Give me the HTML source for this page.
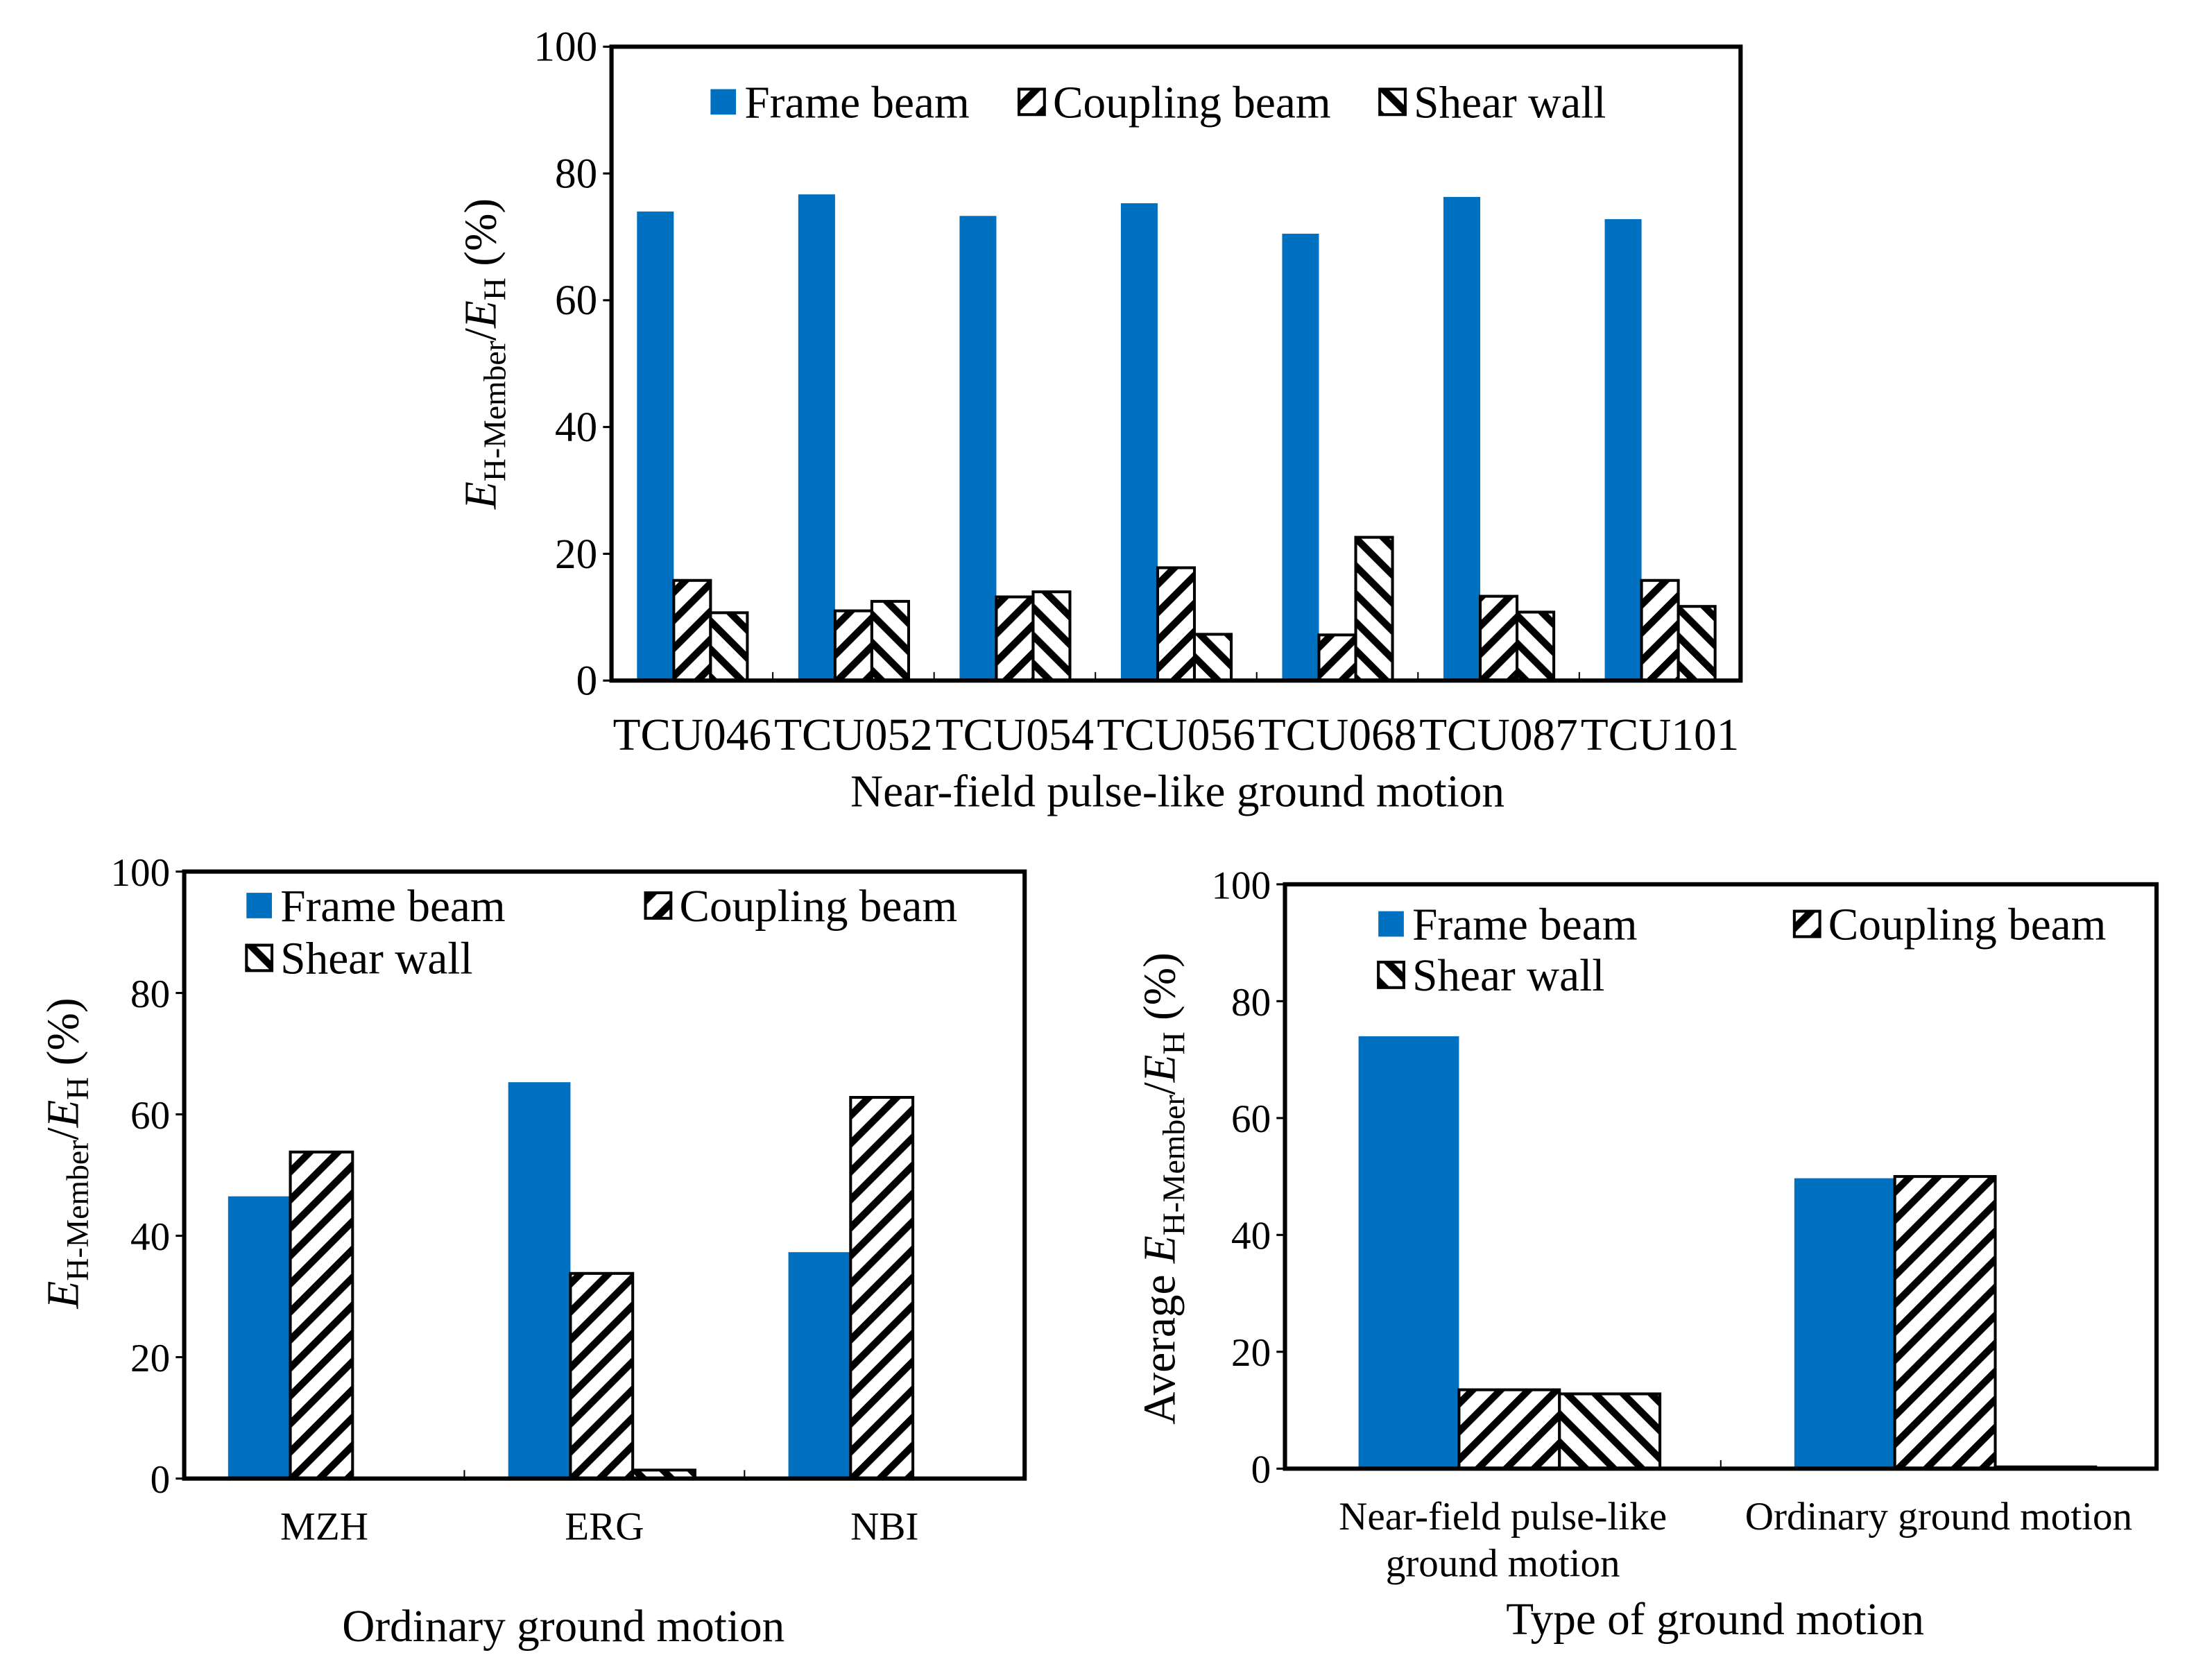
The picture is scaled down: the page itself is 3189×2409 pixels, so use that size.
<!DOCTYPE html>
<html><head><meta charset="utf-8"><style>
html,body{margin:0;padding:0;background:#fff}
svg{display:block;font-family:"Liberation Serif",serif}
</style></head><body>
<svg id="root" width="3189" height="2409" viewBox="0 0 1563 1181" xmlns="http://www.w3.org/2000/svg">
<defs>
<pattern id="pc" patternUnits="userSpaceOnUse" width="14" height="14" patternTransform="rotate(45)">
<rect width="14" height="14" fill="#fff"/><rect x="0" y="0" width="5" height="14" fill="#000"/></pattern>
<pattern id="ps" patternUnits="userSpaceOnUse" width="14" height="14" patternTransform="rotate(-45)">
<rect width="14" height="14" fill="#fff"/><rect x="0" y="0" width="5" height="14" fill="#000"/></pattern>
</defs>
</svg>
<script>
// Top chart data
const topCats=["TCU046","TCU052","TCU054","TCU056","TCU068","TCU087","TCU101"];
const topFrame=[74,76.7,73.3,75.3,70.5,76.3,72.8];
const topCoupling=[15.8,11,13.2,17.8,7.2,13.3,15.8];
const topShear=[10.7,12.5,14,7.3,22.6,10.8,11.7];
// Bottom-left data
const blCats=["MZH","ERG","NBI"];
const blFrame=[46.5,65.3,37.3];
const blCoupling=[53.8,33.8,62.8];
const blShear=[0,1.4,0];
// Bottom-right data
const brCats=[["Near-field pulse-like","ground motion"],["Ordinary ground motion"]];
const brFrame=[74,49.7];
const brCoupling=[13.5,50];
const brShear=[12.8,0.3];
const yTicks=[0,20,40,60,80,100];

const NS="http://www.w3.org/2000/svg";
const root=document.getElementById('root');
function mk(tag,attrs,parent,text){const e=document.createElementNS(NS,tag);for(const k in attrs)e.setAttribute(k,attrs[k]);if(text!==undefined)e.textContent=text;(parent||root).appendChild(e);return e;}

function chart(o){
  const g=mk('g',{});
  
  
  const {L,R,T,B}=o;
  const y=v=>B-(v/100)*(B-T);
  const cw=(R-L)/o.cats.length;
  yTicks.forEach(t=>{
    const tl=mk('text',{x:L-10,y:y(t)+10,'text-anchor':'end','font-size':o.tf},g,String(t));
    
    
    mk('line',{x1:L-6,x2:L,y1:y(t),y2:y(t),stroke:'#000','stroke-width':1.5},g);
  });
  for(let i=1;i<o.cats.length;i++){mk('line',{x1:L+cw*i,x2:L+cw*i,y1:B,y2:B-6,stroke:'#000','stroke-width':1},g);}
  const series=[[o.frame,'#0070C0','frame'],[o.coupling,'url(#pc)','coupling'],[o.shear,'url(#ps)','shear']];
  o.cats.forEach((c,i)=>{
    series.forEach((s,j)=>{
      const x=L+cw*i+o.off+j*o.bw;
      const v=s[0][i];
      const r=mk('rect',{x:x,y:y(v),width:o.bw,height:B-y(v),fill:s[1],stroke:j?'#000':'none','stroke-width':j?2:0},g);
      
      
    });
    const lines=Array.isArray(c)?c:[c];
    lines.forEach((ln,k)=>{
      const at={x:L+cw*i+cw/2,y:o.xly+k*o.xlh,'text-anchor':'middle','font-size':o.xf};
      if(o.xtl){at.textLength=o.xtl;at.lengthAdjust='spacingAndGlyphs';}
      const t=mk('text',at,g,ln);
      
      
    });
  });
  const box=mk('rect',{x:L,y:T,width:R-L,height:B-T,fill:'none',stroke:'#000','stroke-width':3},g);
  
  
  const lg=mk('g',{},g);
  
  
  o.leg.forEach((e,j)=>{
    const sq=mk('rect',{x:e[0],y:e[1]-9,width:18,height:18,fill:series[j][1],stroke:j?'#000':'none','stroke-width':j?2:0},lg);
    
    
    const t=mk('text',{x:e[0]+24,y:e[1]+11,'font-size':o.lf},lg,['Frame beam','Coupling beam','Shear wall'][j]);
    
    
  });
  const xt=mk('text',{x:o.xt[0],y:o.xt[1],'text-anchor':'middle','font-size':o.tif},g,o.xtitle);
  
  
  const yt=mk('text',{x:0,y:0,'text-anchor':'middle','font-size':o.tif,transform:`translate(${o.yt[0]},${o.yt[1]}) rotate(-90)`},g);
  
  
  if(o.avg) mk('tspan',{},yt,'Average ');
  mk('tspan',{'font-style':'italic'},yt,'E');
  mk('tspan',{'font-size':o.tif*0.7,dy:7},yt,'H-Member');
  mk('tspan',{dy:-7},yt,'/');
  mk('tspan',{'font-style':'italic'},yt,'E');
  mk('tspan',{'font-size':o.tif*0.7,dy:7},yt,'H');
  mk('tspan',{dy:-7},yt,' (%)');
}

chart({name:'near-field-chart',L:432,R:1230,T:33,B:481,cats:topCats,frame:topFrame,coupling:topCoupling,shear:topShear,
  off:18,bw:26,tf:30,xf:32,xtl:112,xly:530,xlh:0,lf:32,tif:32,leg:[[502,72],[720,72],[975,72]],
  xtitle:'Near-field pulse-like ground motion',xt:[832,570],yt:[350,250]});
chart({name:'ordinary-chart',L:130,R:724,T:616,B:1045,cats:blCats,frame:blFrame,coupling:blCoupling,shear:blShear,
  off:31,bw:44,tf:28,xf:28,xly:1088,xlh:0,lf:32,tif:32,leg:[[174,640],[456,640],[174,677]],
  xtitle:'Ordinary ground motion',xt:[398,1160],yt:[55,815]});
chart({name:'average-chart',L:908,R:1524,T:625,B:1038,cats:brCats,frame:brFrame,coupling:brCoupling,shear:brShear,
  off:52,bw:71,tf:28,xf:28,xly:1081,xlh:33,lf:32,tif:32,leg:[[974,653],[1268,653],[974,689]],
  xtitle:'Type of ground motion',xt:[1212,1155],yt:[830,840],avg:true});
</script>
</body></html>
